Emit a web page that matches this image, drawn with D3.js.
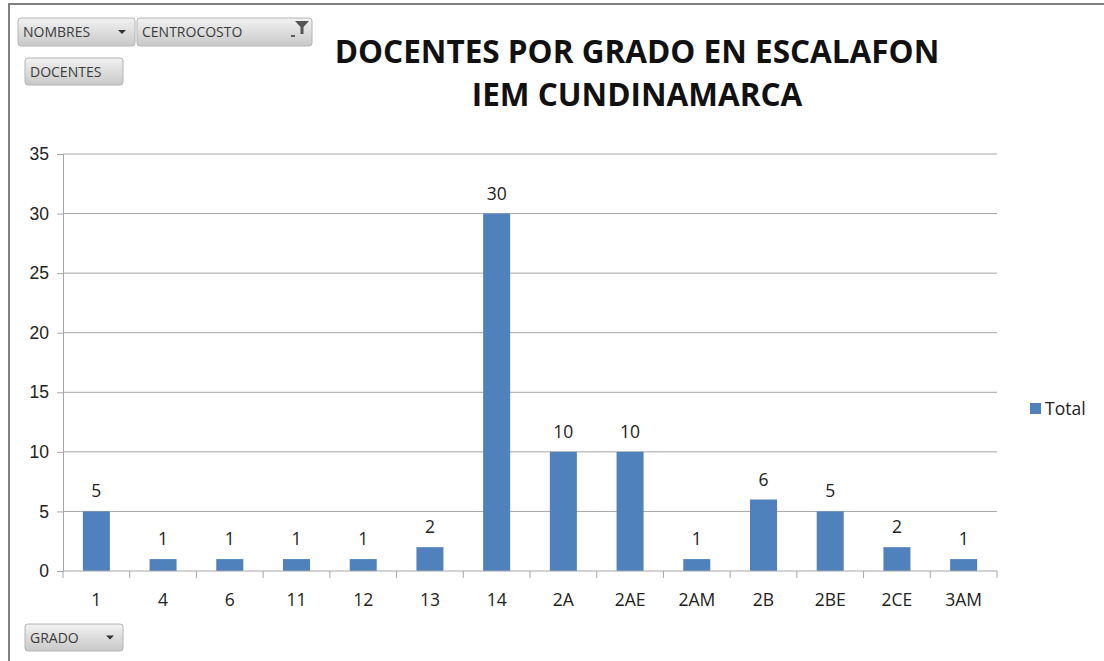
<!DOCTYPE html>
<html lang="es">
<head>
<meta charset="UTF-8">
<title>Docentes por grado en escalafon</title>
<script src="https://d3js.org/d3.v7.min.js"></script>
<style>
  body { margin: 0; background: #fff; }
  svg { display: block; font-family: "Open Sans", "Noto Sans", sans-serif; }
</style>
</head>
<body>
<svg width="1104" height="661"></svg>
<script>
// chart data
const grados = ["1", "4", "6", "11", "12", "13", "14", "2A", "2AE", "2AM", "2B", "2BE", "2CE", "3AM"];
const totales = [5, 1, 1, 1, 1, 2, 30, 10, 10, 1, 6, 5, 2, 1];
const yTicks = [0, 5, 10, 15, 20, 25, 30, 35];
const tituloLineas = ["DOCENTES POR GRADO EN ESCALAFON", "IEM CUNDINAMARCA"];
const serieNombre = "Total";

const svg = d3.select("svg");
const barColor = "#4f81bd";

// outer frame (chart area border)
svg.append("path")
   .attr("d", "M9,661 V4 H1104")
   .attr("fill", "none")
   .attr("stroke", "#808080")
   .attr("stroke-width", 2);

// gradient for pivot buttons
const defs = svg.append("defs");
const grad = defs.append("linearGradient").attr("id", "btn").attr("x1", 0).attr("y1", 0).attr("x2", 0).attr("y2", 1);
grad.append("stop").attr("offset", "0%").attr("stop-color", "#f2f2f2");
grad.append("stop").attr("offset", "100%").attr("stop-color", "#c8c8c8");

function boton(x, y, w, h, label, flecha, filtro) {
    const g = svg.append("g").attr("transform", `translate(${x},${y})`);
    g.append("rect").attr("width", w).attr("height", h).attr("rx", 3)
     .attr("fill", "url(#btn)").attr("stroke", "#b4b4b4");
    g.append("text").attr("x", 5).attr("y", h / 2 + 5)
     .attr("font-size", 14).attr("fill", "#3b3b3b").text(label);
    if (flecha) {
        g.append("path").attr("d", `M${w - 17},${h / 2 - 2} h8 l-4,4 z`).attr("fill", "#333");
    }
    if (filtro) {
        g.append("path").attr("d", `M${w - 21},${h / 2 + 4} h4`).attr("stroke", "#333").attr("stroke-width", 1.5);
        g.append("path").attr("d", `M${w - 17},3 h14 l-5.5,6 v7 h-3 v-7 z`).attr("fill", "#555");
    }
}
boton(18, 18, 117, 28, "NOMBRES", true, false);
boton(137, 18, 175, 28, "CENTROCOSTO", false, true);
boton(25, 58, 98, 27, "DOCENTES", false, false);
boton(25, 624, 98, 27, "GRADO", true, false);

// title
svg.append("text")
   .attr("x", 637).attr("y", 63)
   .attr("text-anchor", "middle")
   .attr("font-size", 31.5).attr("font-weight", "bold").attr("fill", "#111")
   .selectAll("tspan").data(tituloLineas).join("tspan")
   .attr("x", 637).attr("dy", (d, i) => i ? 43 : 0)
   .text(d => d);

// scales
const xb = d3.scaleBand().domain(grados).range([63, 997]);
const y = d3.scaleLinear().domain([0, 35]).range([571, 154]);

// y axis
const yAxis = svg.append("g")
   .attr("transform", "translate(63,0)")
   .call(d3.axisLeft(y).tickValues(yTicks).tickSize(6).tickPadding(8));
yAxis.select(".domain").attr("stroke", "#a6a6a6");
yAxis.selectAll(".tick line").attr("stroke", "#a6a6a6");
yAxis.selectAll(".tick text").attr("font-size", 17.5).attr("fill", "#222");

// gridlines
svg.append("g").selectAll("line").data(yTicks.filter(d => d > 0)).join("line")
   .attr("x1", 63).attr("x2", 997)
   .attr("y1", d => y(d)).attr("y2", d => y(d))
   .attr("stroke", "#a6a6a6");

// bars
svg.append("g").selectAll("rect").data(grados).join("rect")
   .attr("x", d => xb(d) + xb.bandwidth() / 2 - 13.5)
   .attr("width", 27)
   .attr("y", (d, i) => y(totales[i]))
   .attr("height", (d, i) => 571 - y(totales[i]))
   .attr("fill", barColor);

// value labels
svg.append("g").selectAll("text").data(grados).join("text")
   .attr("x", d => xb(d) + xb.bandwidth() / 2)
   .attr("y", (d, i) => y(totales[i]) - 14)
   .attr("text-anchor", "middle")
   .attr("font-size", 17.5).attr("fill", "#222")
   .text((d, i) => totales[i]);

// x axis
const xAxisG = svg.append("g").attr("transform", "translate(0,571)");
xAxisG.append("line").attr("x1", 63).attr("x2", 997).attr("stroke", "#a6a6a6");
xAxisG.selectAll("line.tk").data(d3.range(grados.length + 1)).join("line")
   .attr("class", "tk")
   .attr("x1", i => 63 + i * xb.step()).attr("x2", i => 63 + i * xb.step())
   .attr("y1", 0).attr("y2", 7)
   .attr("stroke", "#a6a6a6");
xAxisG.selectAll("text").data(grados).join("text")
   .attr("x", d => xb(d) + xb.bandwidth() / 2)
   .attr("y", 35)
   .attr("text-anchor", "middle")
   .attr("font-size", 17.5).attr("fill", "#222")
   .text(d => d);

// legend
const leg = svg.append("g").attr("transform", "translate(1030,403)");
leg.append("rect").attr("width", 11).attr("height", 11).attr("fill", barColor);
leg.append("text").attr("x", 15).attr("y", 12).attr("font-size", 17.5).attr("fill", "#222").text(serieNombre);
</script>
</body>
</html>
